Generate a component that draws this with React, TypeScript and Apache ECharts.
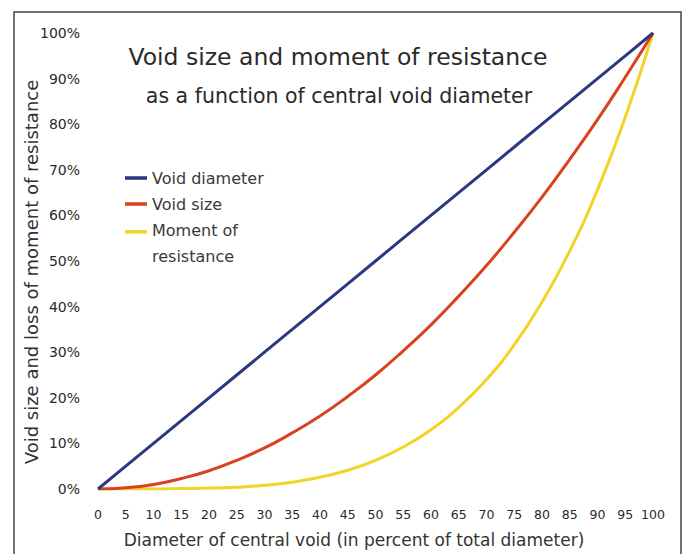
import React, { useEffect, useRef } from "react";
import * as echarts from "echarts";

const xValues = [0, 5, 10, 15, 20, 25, 30, 35, 40, 45, 50, 55, 60, 65, 70, 75, 80, 85, 90, 95, 100];
const voidDiameter = [0, 5, 10, 15, 20, 25, 30, 35, 40, 45, 50, 55, 60, 65, 70, 75, 80, 85, 90, 95, 100];
const voidSize = [0, 0.3, 1, 2.3, 4, 6.3, 9, 12.3, 16, 20.3, 25, 30.3, 36, 42.3, 49, 56.3, 64, 72.3, 81, 90.3, 100];
const momentOfResistance = [0, 0, 0, 0.1, 0.2, 0.4, 0.8, 1.5, 2.6, 4.1, 6.3, 9.2, 13, 17.9, 24, 31.6, 41, 52.2, 65.6, 81.5, 100];
const seriesNames = ["Void diameter", "Void size", "Moment of\nresistance"];
const colors = ["#2a3781", "#d9421f", "#f2d426"];

export default function App() {
  const ref = useRef<HTMLDivElement>(null);
  useEffect(() => {
    const chart = echarts.init(ref.current!, null, { renderer: "svg" });
    const mk = (vals: number[]) => xValues.map((x, i) => [x, vals[i]]);
    const font = "'DejaVu Sans', 'Liberation Sans', Arial, sans-serif";
    const iconMid = "path://M0,0L0.01,0M0,11.25L22,11.25L22,14.75L0,14.75ZM0,26L0.01,26";
    const iconTop = "path://M0,0L22,0L22,3.5L0,3.5ZM0,26L0.01,26";
    chart.setOption({
      animation: false,
      backgroundColor: "#ffffff",
      textStyle: { fontFamily: font },
      grid: { left: 98, right: 36, top: 33, bottom: 65 },
      title: [
        {
          text: "Void size and moment of resistance",
          left: 333, top: 40, textAlign: "center",
          textStyle: { fontFamily: font, fontSize: 23.5, fontWeight: "normal", color: "#2a2a2a" },
        },
        {
          text: "as a function of central void diameter",
          left: 334, top: 80, textAlign: "center",
          textStyle: { fontFamily: font, fontSize: 20.5, fontWeight: "normal", color: "#2a2a2a" },
        },
      ],
      legend: {
        orient: "vertical",
        left: 125, top: 165, padding: 0,
        itemWidth: 22, itemHeight: 26, itemGap: 0,
        itemStyle: { borderWidth: 0 },
        textStyle: { fontFamily: font, fontSize: 16, color: "#3a3a3a", lineHeight: 26 },
        data: [
          { name: seriesNames[0], icon: iconMid },
          { name: seriesNames[1], icon: iconMid },
          { name: seriesNames[2], icon: iconTop },
        ],
      },
      xAxis: {
        type: "value", min: 0, max: 100, interval: 5,
        axisLine: { show: false }, axisTick: { show: false }, splitLine: { show: false },
        axisLabel: { fontFamily: font, fontSize: 12.5, color: "#2a2a2a", margin: 19 },
      },
      yAxis: {
        type: "value", min: 0, max: 100, interval: 10,
        axisLine: { show: false }, axisTick: { show: false }, splitLine: { show: false },
        axisLabel: { fontFamily: font, fontSize: 14, color: "#2a2a2a", margin: 18, formatter: "{value}%" },
      },
      graphic: [
        {
          type: "rect", shape: { x: 14, y: 12, width: 667, height: 560 },
          style: { fill: "none", stroke: "#444", lineWidth: 1.5 }, silent: true,
        },
        {
          type: "text", x: 31, y: 272, rotation: Math.PI / 2,
          style: {
            text: "Void size and loss of moment of resistance",
            font: `18px ${font}`, fill: "#333", align: "center", verticalAlign: "middle",
          },
        },
        {
          type: "text", x: 354, y: 540,
          style: {
            text: "Diameter of central void (in percent of total diameter)",
            font: `17px ${font}`, fill: "#333", align: "center", verticalAlign: "middle",
          },
        },
      ],
      series: [
        { name: seriesNames[0], type: "line", data: mk(voidDiameter), showSymbol: false, lineStyle: { width: 3, color: colors[0] }, itemStyle: { color: colors[0] }, z: 3 },
        { name: seriesNames[1], type: "line", data: mk(voidSize), smooth: true, showSymbol: false, lineStyle: { width: 3, color: colors[1] }, itemStyle: { color: colors[1] }, z: 2 },
        { name: seriesNames[2], type: "line", data: mk(momentOfResistance), smooth: true, showSymbol: false, lineStyle: { width: 3, color: colors[2] }, itemStyle: { color: colors[2] }, z: 1 },
      ],
    });
    return () => chart.dispose();
  }, []);
  return <div ref={ref} style={{ position: "fixed", left: 0, top: 0, width: 689, height: 554 }} />;
}
